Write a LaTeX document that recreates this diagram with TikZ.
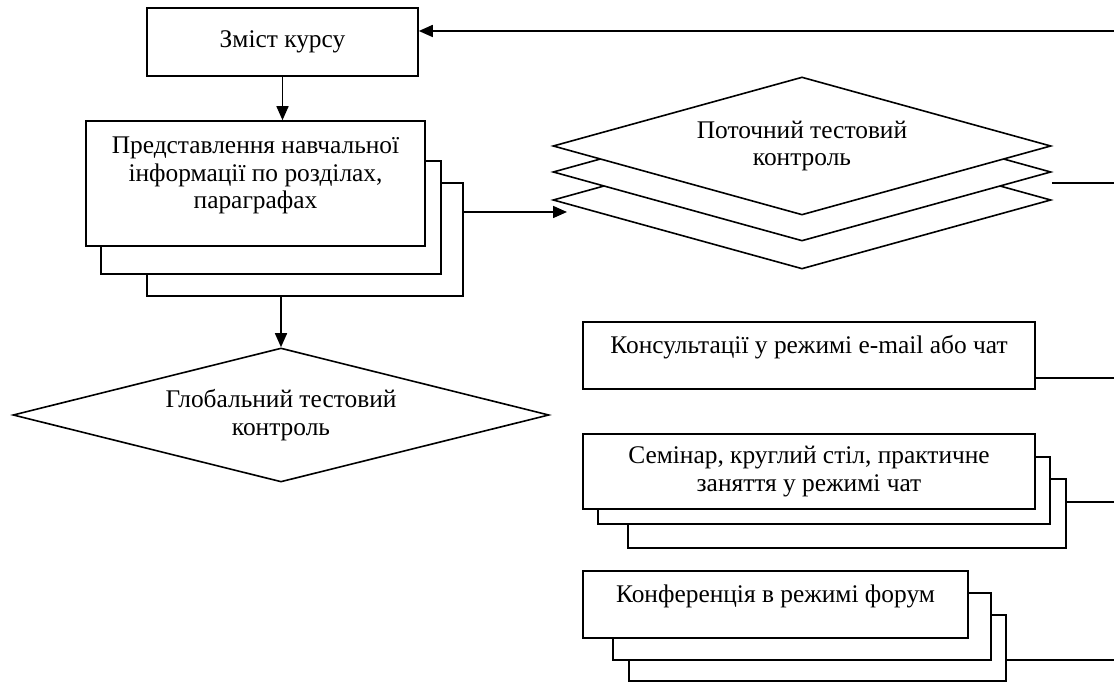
\documentclass[tikz,border=0pt]{standalone}
\usepackage{fontspec}
\setmainfont{Liberation Serif}
\usetikzlibrary{arrows.meta,shapes.geometric}

\tikzset{
  card/.style={draw, fill=white, line width=0.8pt, inner sep=0pt, align=center},
  rhomb/.style={draw, diamond, fill=white, line width=0.8pt, inner sep=0pt, align=center},
  link/.style={line width=0.8pt},
}

\begin{document}
\begin{tikzpicture}[x=0.5pt, y=-0.5pt, >={Triangle[length=7pt,width=6pt]}, font=\fontsize{12.7}{13.8}\selectfont]
    \useasboundingbox (0,0) rectangle (1114,683);

    % Course content
    \node[card, minimum width=135.5pt, minimum height=34pt] (content) at (282.5,42) {Зміст курсу};

    % Learning material (stacked pages)
    \node[card, minimum width=158pt, minimum height=56.5pt] (present3) at (305,239.5) {};
    \node[card, minimum width=170pt, minimum height=56.5pt] (present2) at (271,217.5) {};
    \node[card, minimum width=169.5pt, minimum height=62.5pt, text depth=10.5pt] (present) at (255.5,183.5)
        {Представлення навчальної\\інформації по розділах,\\параграфах};

    % Current test control (stacked diamonds)
    \node[rhomb, minimum width=249pt, minimum height=69pt, aspect=3.6] (cur3) at (802,200) {};
    \node[rhomb, minimum width=249pt, minimum height=69pt, aspect=3.6] (cur2) at (802,172) {};
    \node[rhomb, minimum width=249pt, minimum height=69pt, aspect=3.6] (cur) at (802,146) {Поточний тестовий\\контроль};

    % Global test control
    \node[rhomb, minimum width=268pt, minimum height=67pt, aspect=4] (global) at (281,415) {Глобальний тестовий\\контроль};

    % Consultations
    \node[card, minimum width=226pt, minimum height=33.5pt, text depth=11pt] (consult) at (809,355.5)
        {Консультації у режимі e-mail або чат};

    % Seminar (stacked pages)
    \node[card, minimum width=219pt, minimum height=34.5pt] (sem3) at (847,513.5) {};
    \node[card, minimum width=226pt, minimum height=33.5pt] (sem2) at (824,490.5) {};
    \node[card, minimum width=226pt, minimum height=37.5pt] (sem) at (809,471.5)
        {Семінар, круглий стіл, практичне\\заняття у режимі чат};

    % Conference (stacked pages)
    \node[card, minimum width=188.5pt, minimum height=33pt] (conf3) at (817.5,648) {};
    \node[card, minimum width=189pt, minimum height=33.5pt] (conf2) at (802,626.5) {};
    \node[card, minimum width=192.5pt, minimum height=33.5pt, text depth=10.5pt] (conf) at (775.5,604.5)
        {Конференція в режимі форум};

    % Arrows between blocks
    \coordinate (loop) at (1114,31);
    \draw[link, ->] (loop) -- (content.east |- loop);
    \draw[link, ->] (content.south) -- (content.south |- present.north);
    \coordinate (cur-in) at (567,212);
    \draw[link, ->] (present3.east |- cur-in) -- (cur-in);
    \draw[link, ->] (present3.south -| global.north) -- (global.north);

    % Lines leaving at the right edge
    \coordinate (out-cur) at (1114,183);
    \draw[link] (cur.east |- out-cur) -- (out-cur);
    \coordinate (out-con) at (1114,378);
    \draw[link] (consult.east |- out-con) -- (out-con);
    \coordinate (out-sem) at (1114,502);
    \draw[link] (sem3.east |- out-sem) -- (out-sem);
    \coordinate (out-conf) at (1114,660);
    \draw[link] (conf3.east |- out-conf) -- (out-conf);

\end{tikzpicture}
\end{document}
